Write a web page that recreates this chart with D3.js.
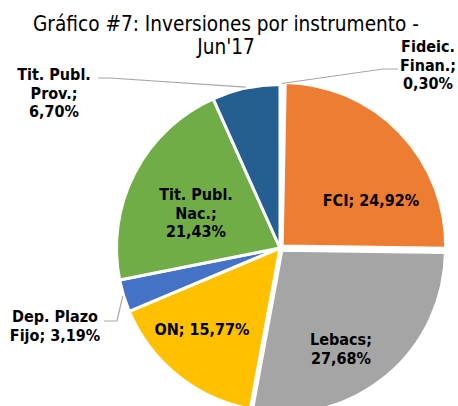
<!DOCTYPE html>
<html>
<head>
<meta charset="utf-8">
<script src="https://cdn.jsdelivr.net/npm/d3@7"></script>
<style>
  html, body { margin: 0; padding: 0; background: #fff; }
  svg text { font-family: "DejaVu Sans Condensed", "DejaVu Sans", sans-serif; fill: #000; }
</style>
</head>
<body>
<svg id="chart" width="458" height="406"></svg>
<script>
// slices, clockwise from 12 o'clock
const categories = ["Fideic. Finan.", "FCI", "Lebacs", "ON", "Dep. Plazo Fijo", "Tit. Publ. Nac.", "Tit. Publ. Prov."];
const values = [0.30, 24.92, 27.68, 15.77, 3.19, 21.43, 6.70];
const colors = ["#5B9BD5", "#ED7D31", "#A5A5A5", "#FFC000", "#4472C4", "#70AD47", "#255E91"];
// label text as it is broken in the picture
const labelLines = [
  ["Fideic.", "Finan.;", "0,30%"],
  ["FCI; 24,92%"],
  ["Lebacs;", "27,68%"],
  ["ON; 15,77%"],
  ["Dep. Plazo", "Fijo; 3,19%"],
  ["Tit. Publ.", "Nac.;", "21,43%"],
  ["Tit. Publ.", "Prov.;", "6,70%"]
];
const titleLines = ["Gráfico #7: Inversiones por instrumento -", "Jun'17"];

const svg = d3.select("#chart");
const cx = 280, cy = 248, radius = 163.5;

// label placement (x centre, first baseline) and leader stubs
const labelPos = [
  { x: 428, y: 52, leader: [[398, 69], [383, 69]] },
  { x: 371, y: 206 },
  { x: 341, y: 345 },
  { x: 202, y: 335 },
  { x: 55, y: 322, leader: [[104, 321], [117, 321]] },
  { x: 196, y: 200 },
  { x: 54, y: 80, leader: [[98, 78], [110, 78]] }
];
const explode = [0, 3, 3, 0, 0, 0, 0];

svg.append("text")
  .attr("x", 226)
  .attr("text-anchor", "middle")
  .style("font-size", "20.6px")
  .selectAll("tspan")
  .data(titleLines)
  .join("tspan")
  .attr("x", 226)
  .attr("y", (d, i) => 31 + i * 23)
  .text(d => d);

const pie = d3.pie().sort(null).value(d => d)(values);
const arc = d3.arc().innerRadius(0).outerRadius(radius);

const g = svg.append("g").attr("transform", `translate(${cx},${cy})`);

g.selectAll("path.slice")
  .data(pie)
  .join("path")
  .attr("class", "slice")
  .attr("d", arc)
  .attr("fill", (d, i) => colors[i])
  .attr("stroke", "#fff")
  .attr("stroke-width", 3)
  .attr("stroke-linejoin", "round")
  .attr("transform", (d, i) => {
    const a = (d.startAngle + d.endAngle) / 2;
    return `translate(${Math.sin(a) * explode[i]},${-Math.cos(a) * explode[i]})`;
  });

// leader lines
pie.forEach((d, i) => {
  const p = labelPos[i];
  if (!p.leader) return;
  const a = (d.startAngle + d.endAngle) / 2;
  const end = [cx + Math.sin(a) * (radius + 1), cy - Math.cos(a) * (radius + 1)];
  svg.append("path")
    .attr("d", d3.line()([...p.leader, end]))
    .attr("fill", "none")
    .attr("stroke", "#A6A6A6")
    .attr("stroke-width", 1.2);
});

svg.selectAll("text.lbl")
  .data(pie)
  .join("text")
  .attr("class", "lbl")
  .attr("text-anchor", "middle")
  .style("font-size", "16px")
  .style("font-weight", "bold")
  .each(function(d, i) {
    d3.select(this).selectAll("tspan")
      .data(labelLines[i])
      .join("tspan")
      .attr("x", labelPos[i].x)
      .attr("y", (t, k) => labelPos[i].y + k * 18.5)
      .text(t => t);
  });
</script>
</body>
</html>
